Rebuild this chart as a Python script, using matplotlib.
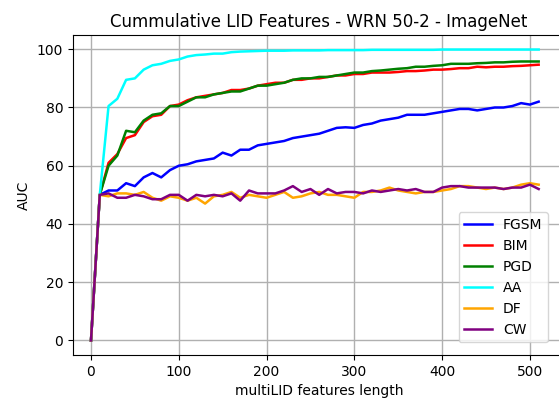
import matplotlib
matplotlib.use("Agg")
import matplotlib.pyplot as plt
import numpy as np

lengths = list(range(0, 520, 10))

fgsm = [0, 50, 51.5, 51.5, 54, 53, 56, 57.5, 56, 58.5, 60, 60.5, 61.5, 62, 62.5, 64.5, 63.5, 65.5, 65.5, 67,
        67.5, 68, 68.5, 69.5, 70, 70.5, 71, 72, 73, 73.2, 73, 74, 74.5, 75.5, 76, 76.5, 77.5, 77.5, 77.5, 78,
        78.5, 79, 79.5, 79.5, 79, 79.5, 80, 80, 80.5, 81.5, 81, 82]
bim = [0, 50, 61, 64, 69.5, 70.5, 75, 77, 77.5, 80.5, 81, 82.5, 83.5, 84, 84.5, 85, 86, 86, 86.5, 87.5,
       88, 88.5, 88.5, 89.5, 89.5, 90, 90, 90.5, 91, 91, 91.5, 91.5, 92, 92, 92, 92.2, 92.5, 92.5, 92.7, 93,
       93, 93.2, 93.5, 93.5, 94, 93.8, 94, 94, 94.2, 94.3, 94.5, 94.7]
pgd = [0, 50, 60, 63.5, 72, 71.5, 75.5, 77.5, 78, 80.5, 80.5, 82, 83.5, 83.5, 84.5, 85, 85.5, 85.5, 86.5, 87.5,
       87.5, 88, 88.5, 89.5, 90, 90, 90.5, 90.5, 91, 91.5, 92, 92, 92.5, 92.7, 93, 93.3, 93.5, 94, 94, 94.3,
       94.5, 95, 95, 95, 95.2, 95.3, 95.5, 95.5, 95.7, 95.8, 95.8, 95.8]
aa = [0, 50, 80.5, 83, 89.5, 90, 93, 94.5, 95, 96, 96.5, 97.5, 98, 98.2, 98.5, 98.5, 99, 99.2, 99.3, 99.4,
      99.5, 99.5, 99.5, 99.6, 99.6, 99.6, 99.6, 99.7, 99.7, 99.7, 99.7, 99.7, 99.8, 99.8, 99.8, 99.8, 99.8, 99.8,
      99.8, 99.8, 99.9, 99.9, 99.9, 99.9, 99.9, 99.9, 99.9, 99.9, 99.9, 99.9, 99.9, 99.9]
df = [0, 50, 49.5, 50.5, 50.5, 50, 51, 49, 48, 49.5, 49, 48, 49, 47, 49.5, 50, 51, 49, 50, 49.5,
      49, 50, 51, 49, 49.5, 50.5, 51, 50, 50, 49.5, 49, 51, 51, 51.5, 52.5, 51.5, 51, 50.5, 51, 51,
      51.5, 52, 53, 53, 52.5, 52, 52.5, 52, 52.5, 53.5, 54, 53.5]
cw = [0, 50, 50.5, 49, 49, 50, 49.5, 48.5, 48.5, 50, 50, 48, 50, 49.5, 50, 49.5, 50.5, 48, 51.5, 50.5,
      50.5, 50.5, 51.5, 53, 51, 52, 50, 52, 50.5, 51, 51, 50.5, 51.5, 51, 51.5, 52, 51.5, 52, 51, 51,
      52.5, 53, 53, 52.5, 52.5, 52.5, 52.5, 52, 52.5, 52.5, 53.5, 52]

series = [("FGSM", fgsm, "blue"), ("BIM", bim, "red"), ("PGD", pgd, "green"),
          ("AA", aa, "cyan"), ("DF", df, "orange"), ("CW", cw, "purple")]

fig = plt.figure(figsize=(5.59, 4.01), dpi=100)
# axes extends slightly past the right edge of the canvas, as in the reference
ax = fig.add_axes([73 / 559, 46 / 401, 492 / 559, 320 / 401])
for name, vals, col in series:
    ax.plot(lengths, vals, color=col, label=name, linewidth=1.8)
ax.set_xlim(-20.5, 540)
ax.set_title("Cummulative LID Features - WRN 50-2 - ImageNet")
ax.set_xlabel("multiLID features length")
ax.set_ylabel("AUC")
ax.grid(True, color="#b0b0b0", linewidth=1)
ax.legend(loc="lower right", bbox_to_anchor=((555 - 73) / 492, 0.018), borderaxespad=0.5)
fig.savefig("out.png", dpi=100)
